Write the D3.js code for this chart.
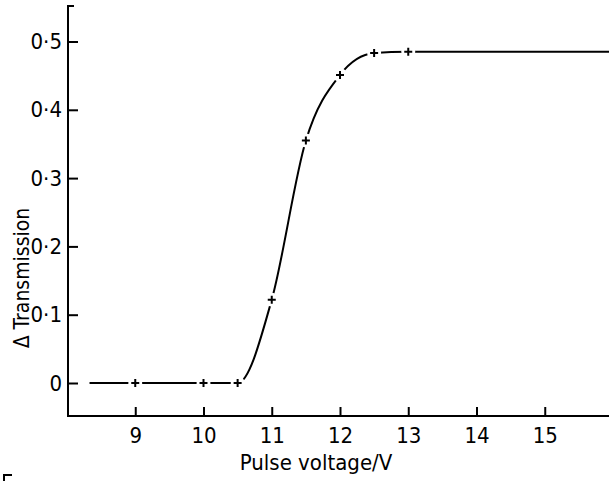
<!DOCTYPE html>
<meta charset="utf-8">
<style>
body { margin: 0; background: #fff; }
svg { display: block; }
.axis text { font-family: "Liberation Sans Narrow", "DejaVu Sans Condensed", sans-serif; font-size: 22px; fill: #000; }
.axis line { stroke: #000; stroke-width: 2px; }
.title { font-family: "Liberation Sans Narrow", "DejaVu Sans Condensed", sans-serif; fill: #000; }
</style>
<body>
<svg width="609" height="481"></svg>
<script src="https://cdn.jsdelivr.net/npm/d3@7"></script>
<script>

// measured points (+ markers)
var markerX = [9, 10, 10.5, 11, 11.5, 12, 12.5, 13];
var markerY = [0, 0, 0, 0.122, 0.355, 0.451, 0.483, 0.485];

// fitted curve drawn through the points, running to both flat ends
var curveX = [8.33, 9, 10, 10.5, 11, 11.5, 12, 12.5, 13, 16];
var curveY = [0, 0, 0, 0, 0.122, 0.355, 0.451, 0.483, 0.485, 0.485];

var xTicks = [9, 10, 11, 12, 13, 14, 15];
var yTicks = [0, 0.1, 0.2, 0.3, 0.4, 0.5];
var yTickLabels = ["0", "0·1", "0·2", "0·3", "0·4", "0·5"];

var svg = d3.select("svg");

var x = d3.scaleLinear().domain([8, 16]).range([67, 613]);
var y = d3.scaleLinear().domain([0, 0.5]).range([383, 41.5]);

var axisLeftX = 68, axisBottomY = 416, axisTop = 6;

// y axis, ticks pointing inward
var yAxis = d3.axisLeft(y)
    .tickValues(yTicks)
    .tickFormat(function(d, i) { return yTickLabels[i]; })
    .tickSizeInner(-10)
    .tickSizeOuter(0)
    .tickPadding(6);

var gy = svg.append("g")
    .attr("class", "axis")
    .attr("transform", "translate(" + axisLeftX + ",0)")
    .call(yAxis);
gy.select(".domain").remove();

// x axis, ticks pointing inward
var xAxis = d3.axisBottom(x)
    .tickValues(xTicks)
    .tickSizeInner(-9)
    .tickSizeOuter(0)
    .tickPadding(11);

var gx = svg.append("g")
    .attr("class", "axis")
    .attr("transform", "translate(0," + axisBottomY + ")")
    .call(xAxis);
gx.select(".domain").remove();

// frame lines
svg.append("path")
    .attr("d", "M" + (axisLeftX + 6) + "," + axisTop + "H" + axisLeftX + "V" + axisBottomY + "H609")
    .attr("fill", "none")
    .attr("stroke", "#000")
    .attr("stroke-width", 2);

// curve
var line = d3.line()
    .x(function(d) { return x(d[0]); })
    .y(function(d) { return y(d[1]); })
    .curve(d3.curveMonotoneX);

svg.append("path")
    .datum(d3.zip(curveX, curveY))
    .attr("d", line)
    .attr("fill", "none")
    .attr("stroke", "#000")
    .attr("stroke-width", 2);

// markers with a small gap in the curve around them
var pts = d3.zip(markerX, markerY);
var m = svg.append("g").selectAll("g")
    .data(pts)
  .enter().append("g")
    .attr("transform", function(d) { return "translate(" + x(d[0]) + "," + y(d[1]) + ")"; });

m.append("circle").attr("r", 7).attr("fill", "#fff");
m.append("path")
    .attr("d", "M-4,0H4M0,-4V4")
    .attr("stroke", "#000")
    .attr("stroke-width", 2);

// axis titles
svg.append("text")
    .attr("class", "title")
    .attr("x", 316)
    .attr("y", 470)
    .attr("font-size", 22)
    .attr("text-anchor", "middle")
    .text("Pulse voltage/V");

svg.append("text")
    .attr("class", "title")
    .attr("transform", "translate(29,278) rotate(-90)")
    .attr("font-size", 21)
    .attr("text-anchor", "middle")
    .text("Δ Transmission");

// small corner mark at bottom left
svg.append("path")
    .attr("d", "M4,481V475H12")
    .attr("fill", "none")
    .attr("stroke", "#000")
    .attr("stroke-width", 2);

</script>
</body>
